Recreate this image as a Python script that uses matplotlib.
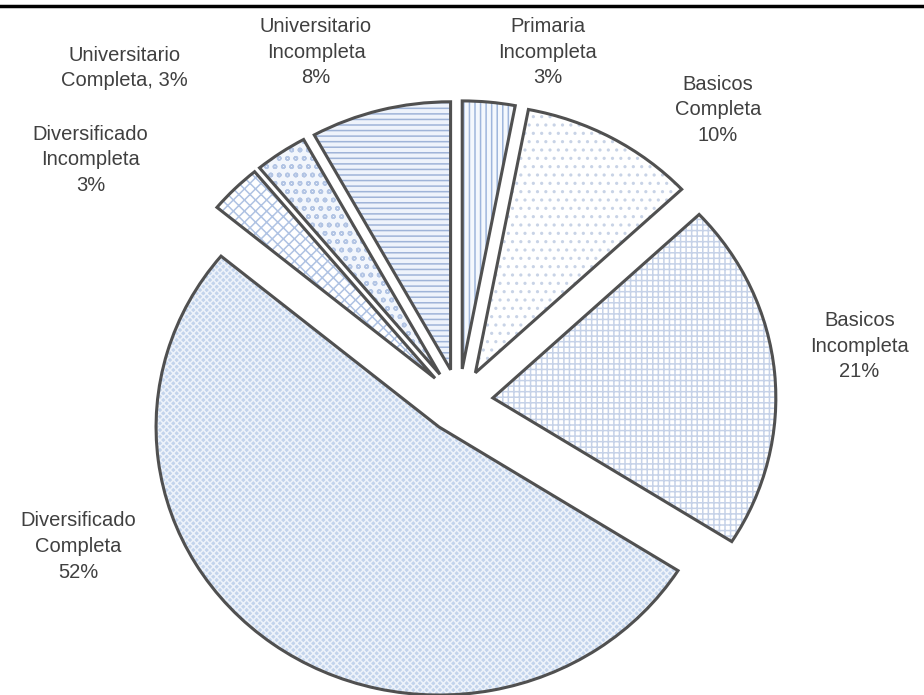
import matplotlib.pyplot as plt
from matplotlib.lines import Line2D

plt.rcParams["font.family"] = ["Liberation Sans", "DejaVu Sans"]
plt.rcParams["hatch.linewidth"] = 1.1

# clockwise from 12 o'clock
levels = [
    "Primaria\nIncompleta",
    "Basicos\nCompleta",
    "Basicos\nIncompleta",
    "Diversificado\nCompleta",
    "Diversificado\nIncompleta",
    "Universitario\nCompleta",
    "Universitario\nIncompleta",
]
shares = [3, 10, 21, 52, 3, 3, 8]

faces = ["#f4f8fd", "#ffffff", "#ffffff", "#c3d4ec", "#ffffff", "#f2f6fc", "#eef3fb"]
hatch_colors = ["#9fb6dc", "#c8d3e6", "#c6d2e8", "#eef3fa", "#b0c3e3", "#b3c5e4", "#9fb4d8"]
hatches = ["|||", "..", "+++", "xxxxx", "xxx", "oo", "---"]

# label centres in figure fractions
label_pos = [
    (0.593, 0.925), (0.777, 0.842), (0.930, 0.502), (0.085, 0.214),
    (0.098, 0.770), (0.135, 0.902), (0.342, 0.925),
]

fig = plt.figure(figsize=(9.24, 6.95), dpi=100)
ax = fig.add_axes([0, 0, 1, 1])

explode = [0.12] * len(shares)

# hatched fills first, outlines on top
fills, _ = ax.pie(shares, explode=explode, startangle=90, counterclock=False,
                  wedgeprops=dict(linewidth=0))
for w, fc, hc, h in zip(fills, faces, hatch_colors, hatches):
    w.set_facecolor(fc)
    w.set_edgecolor(hc)
    w.set_hatch(h)
    w.set_linewidth(0)

ax.pie(shares, explode=explode, startangle=90, counterclock=False,
       wedgeprops=dict(facecolor="none", edgecolor="#505050", linewidth=2.2))

ax.set_aspect("auto")
ax.set_xlim(-1.622, 1.643)
ax.set_ylim(-1.097, 1.496)
ax.axis("off")

for name, v, (x, y) in zip(levels, shares, label_pos):
    if name == "Universitario\nCompleta":
        txt = f"{name}, {v}%"
    else:
        txt = f"{name}\n{v}%"
    fig.text(x, y, txt, ha="center", va="center", fontsize=14.5,
             color="#404040", linespacing=1.45)

fig.add_artist(Line2D([0, 1], [1 - 5.5 / 695] * 2, color="black", linewidth=2.5,
                      transform=fig.transFigure))

fig.savefig("out.png", dpi=100)
